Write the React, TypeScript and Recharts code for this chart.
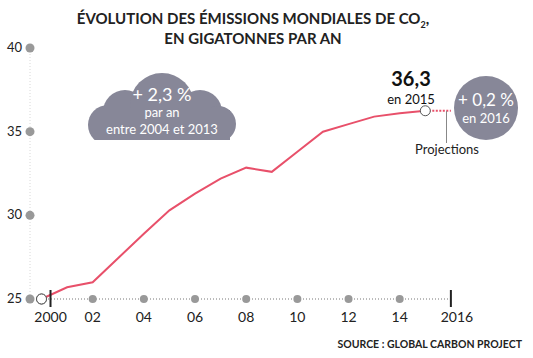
import React from "react";
import { LineChart, Line, XAxis, YAxis, ReferenceLine } from "recharts";

// Émissions mondiales de CO2, en gigatonnes par an
const years = [2000, 2001, 2002, 2003, 2004, 2005, 2006, 2007, 2008, 2009, 2010, 2011, 2012, 2013, 2014, 2015];
const emissions = [25.0, 25.7, 26.0, 27.45, 28.9, 30.3, 31.3, 32.2, 32.85, 32.6, 33.8, 35.0, 35.45, 35.9, 36.1, 36.25];
const projectionYears = [2015, 2016];
const projectionValues = [36.25, 36.25];

const xTicks = [2000, 2002, 2004, 2006, 2008, 2010, 2012, 2014, 2016];
const xLabels = ["2000", "02", "04", "06", "08", "10", "12", "14", "2016"];
const yTicks = [25, 30, 35, 40];

const RED = "#e8506a";
const BUBBLE = "#878798";
const FONT = "Lato, 'Noto Sans', sans-serif";

const data = years.map((year, i) => {
  const row: any = { year, value: emissions[i] };
  const p = projectionYears.indexOf(year);
  if (p >= 0) row.proj = projectionValues[p];
  return row;
});
projectionYears.forEach((year, i) => {
  if (!years.includes(year)) data.push({ year, proj: projectionValues[i] });
});

const XTick = (props: any) => {
  const { x, y, payload } = props;
  const i = xTicks.indexOf(payload.value);
  const label = xLabels[i];
  if (payload.value === 2000) {
    return (
      <g>
        <circle cx={x} cy={y} r={5} fill="#fff" stroke="#555" strokeWidth={1} />
        <line x1={x + 9} x2={x + 9} y1={y - 9} y2={y + 8} stroke="#222" strokeWidth={2} />
        <text x={x + 9} y={y + 23} textAnchor="middle" fontSize={14} fill="#222" fontFamily={FONT}>
          {label}
        </text>
      </g>
    );
  }
  if (payload.value === 2016) {
    return (
      <g>
        <line x1={x} x2={x} y1={y - 9} y2={y + 8} stroke="#222" strokeWidth={2} />
        <text x={x + 6} y={y + 23} textAnchor="middle" fontSize={14} fill="#222" fontFamily={FONT}>
          {label}
        </text>
      </g>
    );
  }
  return (
    <g>
      <circle cx={x} cy={y} r={4} fill="#999" />
      <text x={x} y={y + 23} textAnchor="middle" fontSize={14} fill="#222" fontFamily={FONT}>
        {label}
      </text>
    </g>
  );
};

const YTick = (props: any) => {
  const { x, y, payload } = props;
  return (
    <g>
      <circle cx={x} cy={y} r={4.5} fill="#999" />
      <text x={x - 8} y={y - 1} textAnchor="end" dominantBaseline="central" fontSize={13} fill="#222" fontFamily={FONT}>
        {payload.value}
      </text>
    </g>
  );
};

const EndDot = (props: any) => {
  const { cx, cy, index } = props;
  if (index !== 0 && index !== years.length - 1) return <g key={index} />;
  return <circle key={index} cx={cx} cy={cy} r={5} fill="#fff" stroke="#555" strokeWidth={1} />;
};

const Cloud = () => (
  <svg width={160} height={80} style={{ position: "absolute", left: 82, top: 66 }}>
    <defs>
      <clipPath id="cloudClip">
        <rect x={0} y={0} width={160} height={74} />
      </clipPath>
    </defs>
    <g fill={BUBBLE} clipPath="url(#cloudClip)">
      <circle cx={26} cy={59} r={20} />
      <circle cx={43} cy={46} r={22} />
      <circle cx={80} cy={39} r={32} />
      <circle cx={118} cy={46} r={22} />
      <circle cx={136} cy={58} r={18} />
      <rect x={14} y={44} width={134} height={30} />
    </g>
  </svg>
);

export default function App() {
  return (
    <div style={{ position: "absolute", left: 0, top: 0, width: 533, height: 358, background: "#fff", fontFamily: FONT }}>
      <div
        style={{
          position: "absolute",
          left: 0,
          top: 8,
          width: 506,
          textAlign: "center",
          fontSize: 15,
          fontWeight: 700,
          lineHeight: "20px",
          color: "#222",
        }}
      >
        ÉVOLUTION DES ÉMISSIONS MONDIALES DE CO<sub style={{ fontSize: 9, lineHeight: 0 }}>2</sub>,
        <br />
        EN GIGATONNES PAR AN
      </div>

      <Cloud />
      <div style={{ position: "absolute", left: 82, top: 84, width: 160, textAlign: "center", color: "#fff" }}>
        <div style={{ fontSize: 18, lineHeight: "20px" }}>+ 2,3 %</div>
        <div style={{ fontSize: 13, lineHeight: "17px" }}>par an</div>
        <div style={{ fontSize: 13, lineHeight: "17px" }}>entre 2004 et 2013</div>
      </div>

      <LineChart width={533} height={358} data={data} margin={{ top: 48, right: 77, bottom: 29, left: 0 }}>
        <XAxis
          type="number"
          dataKey="year"
          domain={[1999.55, 2016.2]}
          ticks={xTicks}
          interval={0}
          tickSize={0}
          tickMargin={0}
          axisLine={false}
          height={30}
          tick={<XTick />}
        />
        <YAxis
          type="number"
          domain={[25, 40]}
          ticks={yTicks}
          interval={0}
          tickSize={0}
          tickMargin={0}
          width={30}
          axisLine={{ stroke: "#d8d8d8", strokeDasharray: "1 2" }}
          tick={<YTick />}
        />
        <ReferenceLine
          segment={[
            { x: 1999.55, y: 25 },
            { x: 2016, y: 25 },
          ]}
          stroke="#777"
          strokeDasharray="1 2"
        />
        <Line
          dataKey="proj"
          stroke={RED}
          strokeWidth={2}
          strokeDasharray="2 1.5"
          dot={false}
          isAnimationActive={false}
          connectNulls={false}
        />
        <Line
          dataKey="value"
          stroke={RED}
          strokeWidth={2}
          dot={<EndDot />}
          isAnimationActive={false}
        />
      </LineChart>

      <div
        style={{
          position: "absolute",
          left: 371,
          top: 69,
          width: 80,
          textAlign: "center",
          color: "#111",
          fontSize: 20,
          fontWeight: 700,
          lineHeight: "19px",
        }}
      >
        36,3
      </div>
      <div
        style={{
          position: "absolute",
          left: 371,
          top: 93,
          width: 80,
          textAlign: "center",
          color: "#111",
          fontSize: 13,
          lineHeight: "13px",
        }}
      >
        en 2015
      </div>

      <div style={{ position: "absolute", left: 446, top: 111, width: 1, height: 32, background: "#888" }} />
      <div style={{ position: "absolute", left: 407, top: 141, width: 80, textAlign: "center", fontSize: 13, color: "#222" }}>
        Projections
      </div>

      <div
        style={{
          position: "absolute",
          left: 454,
          top: 76,
          width: 64,
          height: 64,
          borderRadius: 32,
          background: BUBBLE,
          color: "#fff",
          textAlign: "center",
        }}
      >
        <div style={{ fontSize: 17, lineHeight: "20px", marginTop: 14 }}>+ 0,2 %</div>
        <div style={{ fontSize: 13, lineHeight: "16px" }}>en 2016</div>
      </div>

      <div style={{ position: "absolute", right: 11, top: 338, fontSize: 10.5, fontWeight: 700, color: "#222" }}>
        SOURCE : GLOBAL CARBON PROJECT
      </div>
    </div>
  );
}
